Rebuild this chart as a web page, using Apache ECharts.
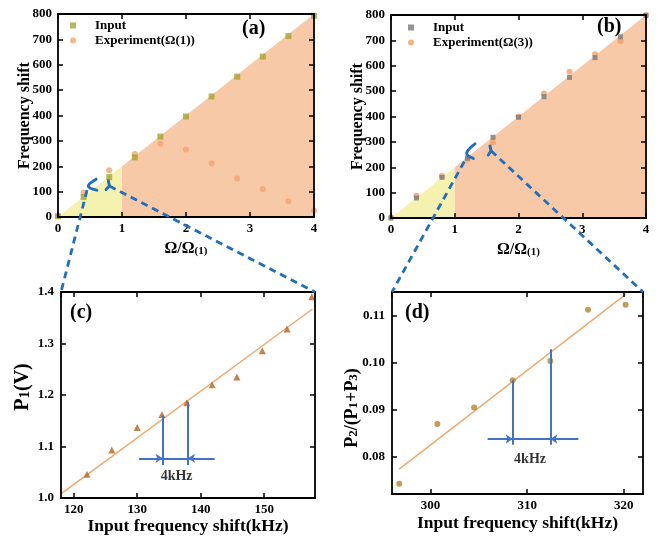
<!DOCTYPE html>
<html>
<head>
<meta charset="utf-8">
<script src="https://cdn.jsdelivr.net/npm/echarts@6/dist/echarts.min.js"></script>
<style>
html, body { margin: 0; padding: 0; background: #fff; }
#main { width: 661px; height: 536px; }
</style>
</head>
<body>
<div id="main"></div>
<script>
// (a) y (b): desplazamiento de frecuencia frente a Ω/Ω(1)
var ratio = [0, 0.4, 0.8, 1.2, 1.6, 2.0, 2.4, 2.8, 3.2, 3.6, 4.0];
var inputA = [3, 79, 157, 235, 317, 396, 475, 553, 632, 713, 793];
var expA = [3, 97, 184, 248, 289, 266, 212, 152, 110, 62, 26];
var inputB = [0, 79, 160, 236, 318, 397, 478, 554, 632, 714, 799];
var expB = [3, 88, 166, 232, 298, 400, 491, 576, 645, 697, 799];
var shadeX = [0, 1, 4];
var shadeY = [0, 200, 800];

// (c) P1 frente a la frecuencia de entrada
var freqC = [122.1, 126, 130, 133.9, 137.8, 141.8, 145.7, 149.7, 153.6, 157.5];
var p1C = [1.046, 1.093, 1.137, 1.162, 1.185, 1.220, 1.235, 1.286, 1.328, 1.391];
var fitCx = [118, 157.6];
var fitCy = [1.008, 1.367];

// (d) P2/(P1+P3)
var freqD = [296.75, 300.7, 304.5, 308.5, 312.4, 316.3, 320.2];
var ratioD = [0.0742, 0.0869, 0.0904, 0.0962, 0.1003, 0.1112, 0.1123];
var fitDx = [296.75, 320.2];
var fitDy = [0.0773, 0.1145];

function pares(xs, ys) {
    return xs.map(function (x, i) { return [x, ys[i]]; });
}

var serif = '"Times New Roman", "Liberation Serif", serif';
var negro = '#000';
var azul = '#4472c4';
var azulZoom = '#1e6fc1';

function eje(grid, pos, rango, label, nombre) {
    var ax = {
        type: 'value',
        gridIndex: grid,
        position: pos,
        z: 10,
        axisLine: { show: true, onZero: false, lineStyle: { color: negro, width: 1.8 } },
        axisTick: { show: true, inside: true, length: 5, lineStyle: { color: negro, width: 1.5 } },
        axisLabel: Object.assign({
            color: negro, fontFamily: serif, fontWeight: 'bold', fontSize: 13, margin: 6
        }, label),
        splitLine: { show: false },
        nameMoveOverlap: false
    };
    Object.assign(ax, rango);
    if (nombre) {
        var t = { fontFamily: serif, fontWeight: 'bold', fontSize: nombre.size, color: negro };
        ax.name = nombre.text;
        ax.nameLocation = 'middle';
        ax.nameGap = nombre.gap;
        ax.nameTextStyle = Object.assign({}, t, {
            rich: {
                b: Object.assign({}, t, { padding: [0, 0, 4, 0] }),
                i: Object.assign({}, t, { padding: [0, 0, 4, nombre.antes || 0] }),
                f: Object.assign({}, t, { padding: [0, nombre.despues || 0, 4, 0] }),
                s: Object.assign({}, t, { fontSize: nombre.size - 5 })
            }
        });
    }
    return ax;
}

var rangoAx = { min: 0, max: 4, interval: 1 };
var rangoAy = { min: 0, max: 800, interval: 100 };
var rangoCx = { min: 118, max: 158, splitNumber: 4 };
var rangoCy = { min: 1.0, max: 1.4, interval: 0.1 };
var rangoDx = { min: 296, max: 322, splitNumber: 3 };
var rangoDy = { min: 0.072, max: 0.115, splitNumber: 4 };
var sinExt = { showMinLabel: false, showMaxLabel: false };
var oculto = { show: false };

var option = {
    backgroundColor: '#fff',
    animation: false,
    title: [
        { text: '(a)', left: 242, top: 19 },
        { text: '(b)', left: 597, top: 17 },
        { text: '(c)', left: 70, top: 303 },
        { text: '(d)', left: 405, top: 303 }
    ].map(function (t) {
        t.textStyle = { fontFamily: serif, fontWeight: 'bold', fontSize: 20, color: negro };
        t.padding = 0;
        return t;
    }),
    legend: [
        {
            data: [{ name: 'Input', icon: 'rect' }, { name: 'Experiment(Ω(1))', icon: 'circle' }],
            left: 70, top: 19
        },
        {
            data: [{ name: 'Input ', icon: 'rect' }, { name: 'Experiment(Ω(3))', icon: 'circle' }],
            left: 408, top: 21
        }
    ].map(function (l) {
        l.orient = 'vertical';
        l.itemWidth = 6;
        l.itemHeight = 6;
        l.itemGap = 2;
        l.padding = 0;
        l.selectedMode = false;
        l.textStyle = { fontFamily: serif, fontWeight: 'bold', fontSize: 13, color: negro, padding: [0, 0, 0, 14] };
        return l;
    }),
    grid: [
        { left: 58, top: 14, width: 256, height: 203 },
        { left: 391, top: 15, width: 255, height: 203 },
        { left: 61, top: 292, width: 254, height: 206 },
        { left: 392, top: 292, width: 251, height: 202 }
    ],
    xAxis: [
        eje(0, 'bottom', rangoAx, { margin: 5 }, { text: '{b|Ω/Ω}{s|(1)}', gap: 24, size: 16 }),
        eje(0, 'top', rangoAx, oculto),
        eje(1, 'bottom', rangoAx, { margin: 5 }, { text: '{b|Ω/Ω}{s|(1)}', gap: 24, size: 16 }),
        eje(1, 'top', rangoAx, oculto),
        eje(2, 'bottom', rangoCx, Object.assign({ margin: 5 }, sinExt), { text: 'Input frequency shift(kHz)', gap: 19, size: 17.5 }),
        eje(2, 'top', rangoCx, oculto),
        eje(3, 'bottom', rangoDx, Object.assign({ margin: 5 }, sinExt), { text: 'Input frequency shift(kHz)', gap: 20, size: 17.5 }),
        eje(3, 'top', rangoDx, oculto)
    ],
    yAxis: [
        eje(0, 'left', rangoAy, {}, { text: 'Frequency shift', gap: 25, size: 16 }),
        eje(0, 'right', rangoAy, oculto),
        eje(1, 'left', rangoAy, {}, { text: 'Frequency shift', gap: 25, size: 16 }),
        eje(1, 'right', rangoAy, oculto),
        eje(2, 'left', rangoCy, { margin: 7, formatter: function (v) { return v.toFixed(1); } },
            { text: '{i|P}{s|1}{b|(V)}', gap: 24, size: 20, antes: 16 }),
        eje(2, 'right', rangoCy, oculto),
        eje(3, 'left', rangoDy, Object.assign({ margin: 7, formatter: function (v) { return v.toFixed(2); } }, sinExt),
            { text: '{b|P}{s|2}{b|/(P}{s|1}{b|+P}{s|3}{f|)}', gap: 27, size: 18, despues: 30 }),
        eje(3, 'right', rangoDy, oculto)
    ],
    series: [
        // sombreado (a)
        { type: 'line', xAxisIndex: 0, yAxisIndex: 0, data: pares(shadeX.slice(0, 2), shadeY.slice(0, 2)),
          symbol: 'none', lineStyle: { width: 0 }, areaStyle: { color: '#f4f2ae', opacity: 1 }, z: 1, silent: true },
        { type: 'line', xAxisIndex: 0, yAxisIndex: 0, data: pares(shadeX.slice(1), shadeY.slice(1)),
          symbol: 'none', lineStyle: { width: 0 }, areaStyle: { color: '#f7c9a7', opacity: 1 }, z: 1, silent: true },
        // sombreado (b)
        { type: 'line', xAxisIndex: 2, yAxisIndex: 2, data: pares(shadeX.slice(0, 2), shadeY.slice(0, 2)),
          symbol: 'none', lineStyle: { width: 0 }, areaStyle: { color: '#f4f2ae', opacity: 1 }, z: 1, silent: true },
        { type: 'line', xAxisIndex: 2, yAxisIndex: 2, data: pares(shadeX.slice(1), shadeY.slice(1)),
          symbol: 'none', lineStyle: { width: 0 }, areaStyle: { color: '#f7c9a7', opacity: 1 }, z: 1, silent: true },

        { name: 'Input', type: 'scatter', xAxisIndex: 0, yAxisIndex: 0, data: pares(ratio, inputA),
          symbol: 'rect', symbolSize: 6, itemStyle: { color: '#a9a22c' }, z: 4 },
        { name: 'Experiment(Ω(1))', type: 'scatter', xAxisIndex: 0, yAxisIndex: 0, data: pares(ratio, expA),
          symbol: 'circle', symbolSize: 6, itemStyle: { color: '#f4a472' }, z: 3 },
        { name: 'Experiment(Ω(3))', type: 'scatter', xAxisIndex: 2, yAxisIndex: 2, data: pares(ratio, expB),
          symbol: 'circle', symbolSize: 6, itemStyle: { color: '#f4a065' }, z: 3 },
        { name: 'Input ', type: 'scatter', xAxisIndex: 2, yAxisIndex: 2, data: pares(ratio, inputB),
          symbol: 'rect', symbolSize: 5, itemStyle: { color: '#7a7a7a' }, z: 4 },

        // (c)
        { type: 'line', xAxisIndex: 4, yAxisIndex: 4, data: pares(fitCx, fitCy), symbol: 'none',
          lineStyle: { color: '#f2a96c', width: 1.5 }, z: 2 },
        { type: 'scatter', xAxisIndex: 4, yAxisIndex: 4, data: pares(freqC, p1C),
          symbol: 'triangle', symbolSize: 7, itemStyle: { color: '#b7641d' }, z: 3 },

        // (d)
        { type: 'line', xAxisIndex: 6, yAxisIndex: 6, data: pares(fitDx, fitDy), symbol: 'none',
          lineStyle: { color: '#f2a96c', width: 1.5 }, z: 2 },
        { type: 'scatter', xAxisIndex: 6, yAxisIndex: 6, data: pares(freqD, ratioD),
          symbol: 'circle', symbolSize: 6, itemStyle: { color: '#b3842a' }, z: 3 },

        // cotas de 4kHz
        { type: 'lines', coordinateSystem: 'cartesian2d', xAxisIndex: 4, yAxisIndex: 4,
          symbol: 'none', lineStyle: { color: azul, width: 2, opacity: 1 }, z: 5,
          data: [
              { coords: [[134, 1.160], [134, 1.064]] },
              { coords: [[138, 1.187], [138, 1.064]] },
              { coords: [[134, 1.077], [138, 1.077]] }
          ] },
        { type: 'lines', coordinateSystem: 'cartesian2d', xAxisIndex: 4, yAxisIndex: 4,
          symbol: ['none', 'arrow'], symbolSize: 7, lineStyle: { color: azul, width: 2, opacity: 1 }, z: 5,
          data: [
              { coords: [[130.3, 1.077], [134, 1.077]] },
              { coords: [[142.2, 1.077], [138, 1.077]] }
          ] },
        { type: 'lines', coordinateSystem: 'cartesian2d', xAxisIndex: 6, yAxisIndex: 6,
          symbol: 'none', lineStyle: { color: azul, width: 2, opacity: 1 }, z: 5,
          data: [
              { coords: [[308.5, 0.0962], [308.5, 0.0825]] },
              { coords: [[312.4, 0.1028], [312.4, 0.0825]] },
              { coords: [[308.5, 0.0837], [312.4, 0.0837]] }
          ] },
        { type: 'lines', coordinateSystem: 'cartesian2d', xAxisIndex: 6, yAxisIndex: 6,
          symbol: ['none', 'arrow'], symbolSize: 7, lineStyle: { color: azul, width: 2, opacity: 1 }, z: 5,
          data: [
              { coords: [[305.9, 0.0837], [308.5, 0.0837]] },
              { coords: [[315.3, 0.0837], [312.4, 0.0837]] }
          ] },
        { type: 'scatter', xAxisIndex: 4, yAxisIndex: 4, data: [[136.2, 1.041]], symbolSize: 0, silent: true,
          label: { show: true, position: 'inside', formatter: '4kHz', fontFamily: serif, fontWeight: 'bold', fontSize: 14, color: negro } },
        { type: 'scatter', xAxisIndex: 6, yAxisIndex: 6, data: [[310.3, 0.0793]], symbolSize: 0, silent: true,
          label: { show: true, position: 'inside', formatter: '4kHz', fontFamily: serif, fontWeight: 'bold', fontSize: 14, color: negro } }
    ]
};

var chart = echarts.init(document.getElementById('main'), null, { renderer: 'canvas' });
chart.setOption(option);

// lineas de ampliacion entre paneles
function px(ax, p) {
    return chart.convertToPixel({ xAxisIndex: ax, yAxisIndex: ax }, p);
}
var trazo = { stroke: azulZoom, lineWidth: 2.8, lineDash: [7, 5], fill: 'none' };
var marca = { stroke: azulZoom, lineWidth: 3, lineCap: 'round', lineJoin: 'round', fill: 'none' };
function linea(pts, st, suave) {
    return { type: 'polyline', shape: { points: pts, smooth: suave || 0 }, style: st, z: 100, silent: true };
}

chart.setOption({
    graphic: [
        // (a) -> (c)
        linea([px(0, [0.595, 149]), px(0, [0.474, 122]), px(0, [0.606, 106])], marca, 0.4),
        linea([px(0, [0.787, 143]), px(0, [0.803, 122]), px(0, [0.751, 108])], marca),
        linea([px(0, [0.454, 106]), px(4, [118, 1.4])], trazo),
        linea([px(0, [0.803, 122]), px(4, [158, 1.4])], trazo),
        // (b) -> (d)
        linea([px(2, [1.318, 292]), px(2, [1.187, 255]), px(2, [1.291, 235])], marca, 0.4),
        linea([px(2, [1.553, 284]), px(2, [1.569, 265]), px(2, [1.526, 248])], marca),
        linea([px(2, [1.15, 222]), px(6, [296, 0.115])], trazo),
        linea([px(2, [1.569, 265]), px(6, [322, 0.115])], trazo)
    ]
});

window.addEventListener('resize', chart.resize);
</script>
</body>
</html>
